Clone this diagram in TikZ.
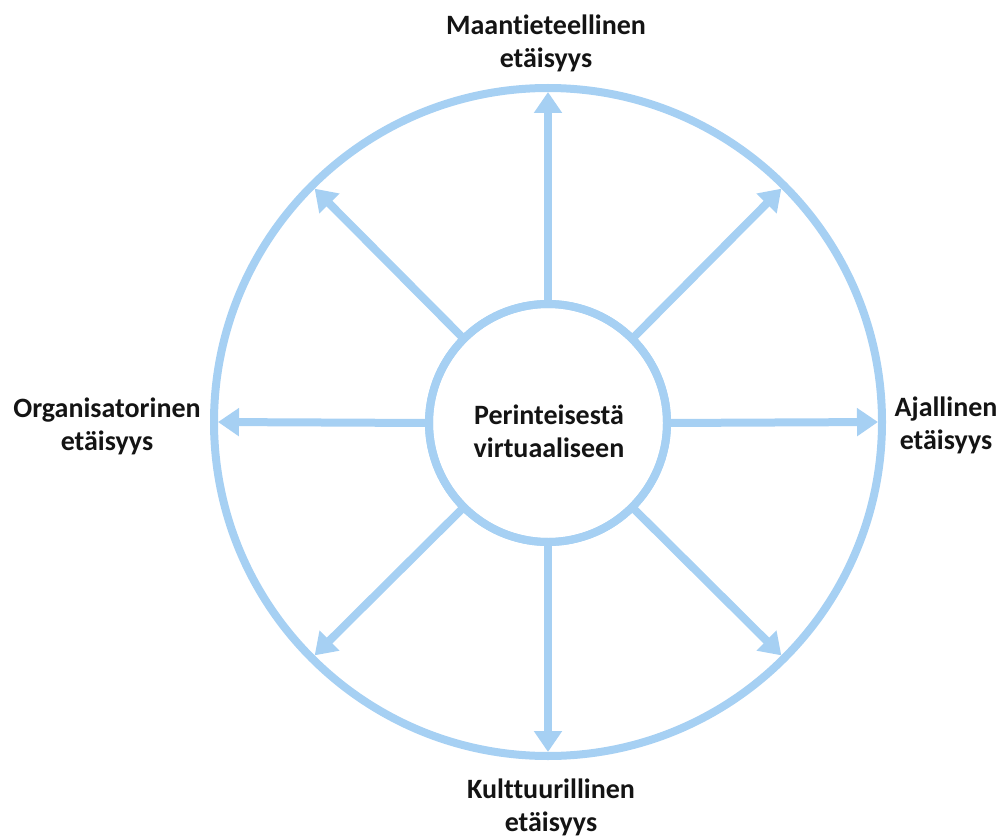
\documentclass[tikz,border=0pt]{standalone}
\usepackage{fontspec}
\setmainfont{Carlito}[Ligatures={NoCommon}]
\usetikzlibrary{arrows.meta}
\definecolor{ringblue}{RGB}{166,208,243}
\definecolor{labelink}{RGB}{20,20,20}
\begin{document}
\begin{tikzpicture}[x=1pt,y=-1pt,
  ring/.style={circle, draw=ringblue, line width=8pt, inner sep=0pt, outer sep=0pt},
  spoke/.style={draw=ringblue, line width=8pt,
    -{Triangle[width=27pt,length=21pt]}, shorten >=4pt},
  lbl/.style={font=\fontsize{28}{33}\selectfont\bfseries, text=labelink, align=center, inner sep=0pt}]
  \useasboundingbox (0,0) rectangle (1004,837);
  % outer and inner rings
  \node[ring, minimum size=668pt] (outer) at (548,422) {};
  \node[ring, minimum size=238pt, fill=white] (hub) at (548,423) {};
  % radial arrows from the hub to the outer ring
  \foreach \a in {0,45,...,315}
    \draw[spoke] (hub.\a) -- (outer.\a);
  \node[ring, minimum size=238pt] at (548,423) {};
  % labels
  \node[lbl] (centre) at (549,431) {Perinteisestä\\virtuaaliseen};
  \node[lbl] (north) at (546,43) {Maantieteellinen\\etäisyys};
  \node[lbl] (south) at (551,807) {Kulttuurillinen\\etäisyys};
  \node[lbl] (west) at (107,426) {Organisatorinen\\etäisyys};
  \node[lbl] (east) at (946,425) {Ajallinen\\etäisyys};
\end{tikzpicture}
\end{document}
